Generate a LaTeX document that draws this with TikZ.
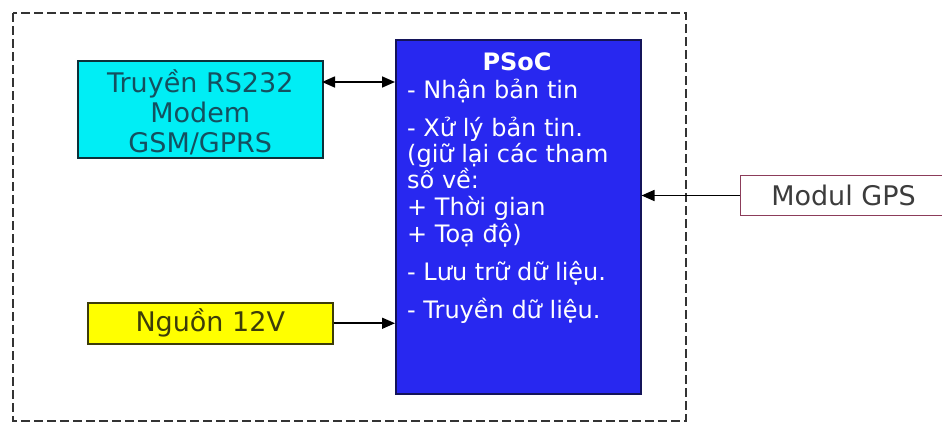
\documentclass[tikz,border=0pt]{standalone}
\usepackage{fontspec}
\setmainfont{DejaVu Sans}
\usetikzlibrary{arrows.meta}
\definecolor{cyanfill}{RGB}{0,238,245}
\definecolor{cyantext}{RGB}{20,80,95}
\definecolor{psocfill}{RGB}{40,40,240}
\definecolor{psocline}{RGB}{20,20,90}
\definecolor{yellowfill}{RGB}{255,255,0}
\definecolor{yellowtext}{RGB}{60,60,10}
\definecolor{gpsline}{RGB}{140,60,90}
\definecolor{gpstext}{RGB}{60,60,60}
\tikzset{
  blockbox/.style={draw, line width=1.5pt, inner sep=0pt, anchor=north west},
  boxtext/.style={font=\fontsize{27}{30}\selectfont, align=center},
  psocline/.style={font=\fontsize{24}{26}\selectfont, text=white, anchor=base west, inner sep=0pt},
  link/.style={line width=1.6pt, -{Triangle[length=13pt,width=11pt]}},
  biglink/.style={line width=1.6pt, {Triangle[length=13pt,width=11pt]}-{Triangle[length=13pt,width=11pt]}},
  frame/.style={draw, line width=1.5pt, dash pattern=on 9pt off 4pt, black!80}
}
\begin{document}
\begin{tikzpicture}[x=1pt,y=-1pt]
  \useasboundingbox (0,0) rectangle (942,423);
  % outer dashed frame
  \draw[frame] (13,13) rectangle (686,421);
  % GSM/GPRS modem block
  \node[blockbox, fill=cyanfill, draw=cyantext!60!black, minimum width=245pt, minimum height=97pt] (modem) at (77,60) {};
  \node[boxtext, text=cyantext] (modemtxt) at ([yshift=-3pt]modem.center) {Truyền RS232\\Modem\\GSM/GPRS};
  % power supply block
  \node[blockbox, fill=yellowfill, draw=yellowtext, minimum width=245pt, minimum height=41pt] (power) at (87,302) {};
  \node[boxtext, text=yellowtext] (powertxt) at (power.center) {Nguồn 12V};
  % GPS module block
  \node[blockbox, fill=white, draw=gpsline, line width=1pt, minimum width=206pt, minimum height=40pt] (gps) at (740,175) {};
  \node[boxtext, text=gpstext] (gpstxt) at (gps.center) {Modul GPS};
  % PSoC block with its task list, one line per baseline
  \node[blockbox, fill=psocfill, draw=psocline, minimum width=245pt, minimum height=354pt] (psoc) at (395,39) {};
  \node[font=\bfseries\fontsize{24}{26}\selectfont, text=white, anchor=base] (psoctitle) at (517,70) {PSoC};
  \foreach \yb/\txt [count=\i] in {
      98/{- Nhận bản tin},
      136/{- Xử lý bản tin.},
      162/{(giữ lại các tham},
      188/{số về:},
      215/{+ Thời gian},
      242/{+ Toạ độ)},
      280/{- Lưu trữ dữ liệu.},
      318/{- Truyền dữ liệu.}}
    \node[psocline] (task\i) at (407,\yb) {\txt};
  % connections
  \coordinate (modemlink) at (322,82);
  \draw[biglink] (modemlink) -- (modemlink -| psoc.west);
  \draw[link] (power.east) -- (power.east -| psoc.west);
  \draw[link] (gps.west) -- (gps.west -| psoc.east);
\end{tikzpicture}
\end{document}
